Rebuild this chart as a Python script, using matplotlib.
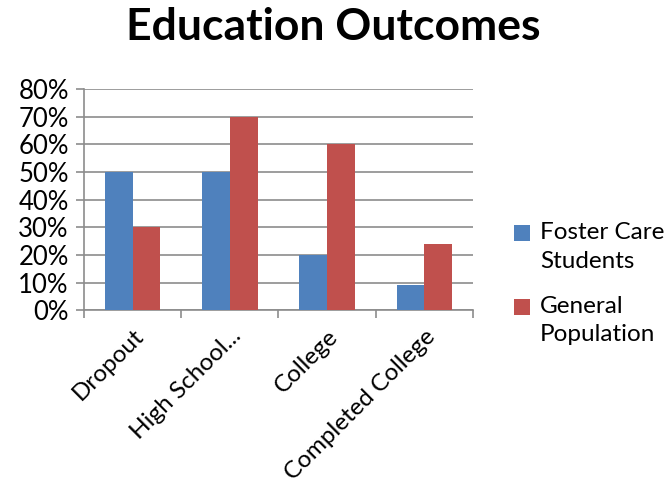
import matplotlib
matplotlib.use("Agg")
import matplotlib.pyplot as plt
import numpy as np
from matplotlib.patches import Rectangle
from matplotlib.container import BarContainer
from matplotlib.legend_handler import HandlerPatch, update_from_first_child
from matplotlib.ticker import FixedLocator, PercentFormatter

categories = ["Dropout", "High School...", "College", "Completed College"]
foster_care = [50, 50, 20, 9]
general_pop = [30, 70, 60, 24]
series_names = ["Foster Care\nStudents", "General\nPopulation"]

plt.rcParams['font.family'] = ['Lato', 'DejaVu Sans']


def raised_square(legend, orig_handle, xdescent, ydescent, width, height, fontsize):
    # legend square sits level with the first text line, like Excel does
    return Rectangle((-xdescent, -ydescent + 10), width, height)


fig = plt.figure(figsize=(6.67, 4.87), dpi=100)
ax = fig.add_axes([0.126, 0.363, 0.583, 0.454])

x = np.arange(len(categories))
w = 0.285
ax.bar(x - w / 2, foster_care, w, color="#4F81BD", label=series_names[0], zorder=3)
ax.bar(x + w / 2, general_pop, w, color="#C0504D", label=series_names[1], zorder=3)

ax.set_xlim(-0.5, len(categories) - 0.5)
ax.set_ylim(0, 80)
ax.set_yticks(np.arange(0, 81, 10))
ax.yaxis.set_major_formatter(PercentFormatter(decimals=0))
ax.yaxis.grid(True, color="#8c8c8c", linewidth=1.2, zorder=0)

ax.set_xticks(x)
ax.set_xticklabels(categories, rotation=45, ha="right", rotation_mode="anchor", fontsize=17.5)
ax.tick_params(axis="x", length=0, pad=11)
ax.xaxis.set_minor_locator(FixedLocator(np.arange(-0.5, len(categories), 1)))
ax.tick_params(axis="x", which="minor", length=6, color="#8c8c8c", width=1.2)
ax.tick_params(axis="y", labelsize=18.5, length=6, color="#8c8c8c", width=1.2, pad=5)

for side in ["top", "right"]:
    ax.spines[side].set_visible(False)
for side in ["left", "bottom"]:
    ax.spines[side].set_color("#8c8c8c")
    ax.spines[side].set_linewidth(1.2)

fig.suptitle("Education Outcomes", fontsize=32, fontweight="bold", y=0.985)

handler = HandlerPatch(patch_func=raised_square, update_func=update_from_first_child)
leg = ax.legend(loc="center left", bbox_to_anchor=(1.05, 0.12), frameon=False, fontsize=17.5,
                handlelength=0.65, handleheight=0.65, handletextpad=0.4, labelspacing=1.0,
                handler_map={BarContainer: handler})
for t in leg.get_texts():
    t.set_linespacing(1.45)

fig.savefig("out.png", dpi=100)
